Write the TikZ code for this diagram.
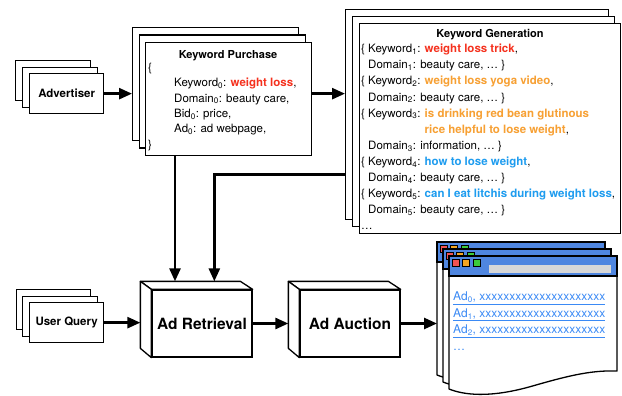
\documentclass[tikz,border=0pt]{standalone}
\usepackage{fontspec}
\setmainfont{TeX Gyre Heros}
\usetikzlibrary{arrows.meta,calc}
\definecolor{kwred}{HTML}{F5311E}
\definecolor{kworange}{HTML}{F7A033}
\definecolor{kwblue}{HTML}{1E9CEF}
\definecolor{webblue}{HTML}{4F86E0}
\definecolor{linkblue}{HTML}{3B8AF5}
\definecolor{tlred}{HTML}{F05252}
\definecolor{tlorange}{HTML}{F5A623}
\definecolor{tlgreen}{HTML}{3CCB3C}
\definecolor{bargray}{HTML}{D8D8D8}
\newcommand{\webwin}[2]{%
\begin{scope}[shift={(#1,#2)}]
\filldraw[fill=white, line width=1.3pt, line join=round] (0,0) -- (0,133) .. controls (15,139) and (40,142) .. (80,131) .. controls (115,121) and (140,114) .. (168,115) -- (168,0) -- cycle;
\filldraw[fill=webblue, line width=1.3pt] (0,0) rectangle (168,20);
\filldraw[fill=tlred, line width=0.7pt] (3,3.5) rectangle ++(7,7);
\filldraw[fill=tlorange, line width=0.7pt] (13.5,3.5) rectangle ++(7,7);
\filldraw[fill=tlgreen, line width=0.7pt] (24,3.5) rectangle ++(7,7);
\fill[bargray] (40,9) rectangle (162,17);
\end{scope}}
\begin{document}
\begin{tikzpicture}[x=1pt,y=-1pt,
  box/.style={draw, fill=white, line width=1.3pt, inner sep=0pt, anchor=north west},
  cube/.style={draw, fill=white, line width=1.3pt, inner sep=0pt, minimum width=100pt, minimum height=67pt, font=\fontsize{15.5}{18}\selectfont\bfseries},
  face/.style={draw, fill=white, line width=1.3pt, line join=round},
  arr/.style={line width=2.6pt, -{Triangle[length=13pt,width=11pt]}},
  smallbold/.style={font=\fontsize{11.5}{14}\selectfont\bfseries},
  title/.style={font=\fontsize{11}{13}\selectfont\bfseries},
  body/.style={anchor=north west, align=left, inner sep=0pt}]
\useasboundingbox (0,0) rectangle (622,396);

% Advertiser stack
\node[box, minimum width=75pt, minimum height=40pt] (advb) at (15,60) {};
\node[box, minimum width=75pt, minimum height=40pt] (advm) at (22,67) {};
\node[box, minimum width=74pt, minimum height=40pt, smallbold] (adv) at (29,73) {Advertiser};

% User query stack
\node[box, minimum width=74pt, minimum height=40pt] (uqb) at (16,289) {};
\node[box, minimum width=75pt, minimum height=40pt] (uqm) at (22,296) {};
\node[box, minimum width=74pt, minimum height=40pt, smallbold] (uq) at (29,302) {User Query};

% Keyword purchase stack
\node[box, minimum width=166pt, minimum height=113pt] (kpb) at (132,27) {};
\node[box, minimum width=166pt, minimum height=113pt] (kpm) at (138.5,34.5) {};
\node[box, minimum width=166pt, minimum height=113pt] (kp) at (145,42) {};
\node[title] (kptitle) at (228,56) {Keyword Purchase};
\node[body, font=\fontsize{11.5}{15.3}\selectfont] (kpbody) at (148,63) {\{\\
\hspace*{26pt}Keyword\textsubscript{0}: \textcolor{kwred}{\textbf{weight loss}},\\
\hspace*{26pt}Domain\textsubscript{0}: beauty care,\\
\hspace*{26pt}Bid\textsubscript{0}: price,\\
\hspace*{26pt}Ad\textsubscript{0}: ad webpage,\\
\}};

% Keyword generation stack
\node[box, minimum width=263pt, minimum height=210pt] (kgb) at (345,9) {};
\node[box, minimum width=262pt, minimum height=210pt] (kgm) at (352,16) {};
\node[box, minimum width=261pt, minimum height=210pt] (kg) at (359,23) {};
\node[title] (kgtitle) at (490,35) {Keyword Generation};
\node[body, font=\fontsize{11.5}{16.1}\selectfont] (kgbody) at (361,44) {%
\{ Keyword\textsubscript{1}: \textcolor{kwred}{\textbf{weight loss trick}},\\
\phantom{\{ }Domain\textsubscript{1}: beauty care, \ldots\ \}\\
\{ Keyword\textsubscript{2}: \textcolor{kworange}{\textbf{weight loss yoga video}},\\
\phantom{\{ }Domain\textsubscript{2}: beauty care, \ldots\ \}\\
\{ Keyword\textsubscript{3}: \textcolor{kworange}{\textbf{is drinking red bean glutinous}}\\
\phantom{\{ Keyword\textsubscript{3}: }\textcolor{kworange}{\textbf{rice helpful to lose weight}},\\
\phantom{\{ }Domain\textsubscript{3}: information, \ldots\ \}\\
\{ Keyword\textsubscript{4}: \textcolor{kwblue}{\textbf{how to lose weight}},\\
\phantom{\{ }Domain\textsubscript{4}: beauty care, \ldots\ \}\\
\{ Keyword\textsubscript{5}: \textcolor{kwblue}{\textbf{can I eat litchis during weight loss}},\\
\phantom{\{ }Domain\textsubscript{5}: beauty care, \ldots\ \}\\
\ldots};

% Ad Retrieval cube
\node[cube] (ar) at (202,323.5) {Ad Retrieval};
\path[face] (ar.north west) -- ++(-11,-8) -- ++(100,0) -- (ar.north east) -- cycle;
\path[face] (ar.north west) -- ++(-11,-8) -- ++(0,67) -- (ar.south west) -- cycle;
\coordinate (artop) at ([yshift=8pt]ar.north);
\coordinate (arleft) at ([xshift=-11pt]ar.west);

% Ad Auction cube
\node[cube] (aa) at (350,323.5) {Ad Auction};
\path[face] (aa.north west) -- ++(-11,-8) -- ++(100,0) -- (aa.north east) -- cycle;
\path[face] (aa.north west) -- ++(-11,-8) -- ++(0,67) -- (aa.south west) -- cycle;
\coordinate (aaleft) at ([xshift=-11pt]aa.west);

% Web pages
\webwin{437}{242}
\webwin{443}{249}
\webwin{449}{256}
\node[inner sep=0pt, minimum width=168pt, minimum height=133pt, anchor=north west] (webb) at (437,242) {};
\node[body, font=\fontsize{12}{16.5}\selectfont, text=linkblue] (ads) at (453,292) {%
\underline{Ad\textsubscript{0}, xxxxxxxxxxxxxxxxxxxxx}\\
\underline{Ad\textsubscript{1}, xxxxxxxxxxxxxxxxxxxxx}\\
\underline{Ad\textsubscript{2}, xxxxxxxxxxxxxxxxxxxxx}\\
\ldots};

% Connectors
\draw[arr] (adv.east) -- (adv.east -| kpb.west);
\draw[arr] (adv.east -| kp.east) -- (adv.east -| kgb.west);
\draw[arr] ([xshift=30pt]kp.south west) -- ([xshift=30pt]kp.south west |- artop);
\draw[arr] ([yshift=-60pt]kgb.west) -| ([xshift=63pt]ar.north west |- artop);
\draw[arr] (uq.east) -- (uq.east -| arleft);
\draw[arr] (ar.east) -- (aaleft);
\draw[arr] (aa.east) -- (aa.east -| webb.west);
\end{tikzpicture}
\end{document}
